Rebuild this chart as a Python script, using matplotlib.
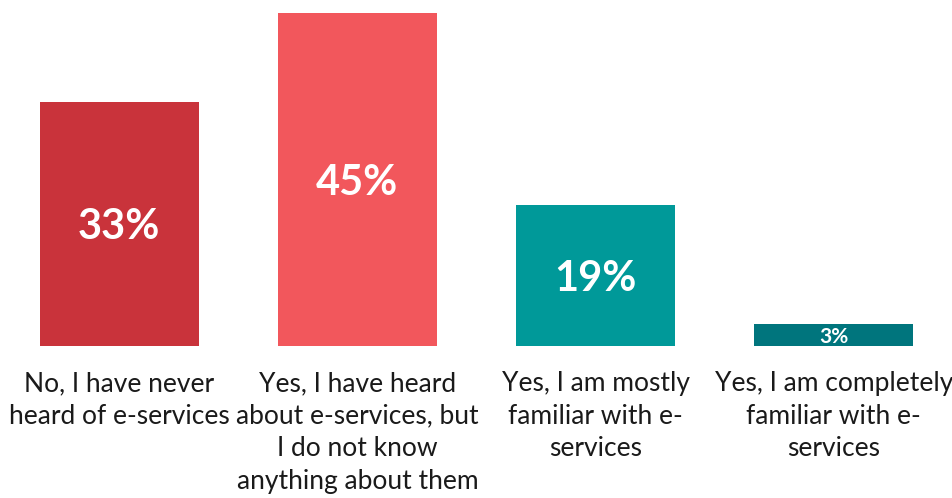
import matplotlib
matplotlib.use("Agg")
import matplotlib.pyplot as plt

# Familiarity with e-services
categories = [
    "No, I have never\nheard of e-services",
    "Yes, I have heard\nabout e-services, but\nI do not know\nanything about them",
    "Yes, I am mostly\nfamiliar with e-\nservices",
    "Yes, I am completely\nfamiliar with e-\nservices",
]
shares = [33, 45, 19, 3]
colors = ["#C9333B", "#F2575C", "#009999", "#00757D"]

plt.rcParams["font.family"] = ["Lato", "DejaVu Sans"]

fig = plt.figure(figsize=(9.53, 4.98), dpi=100)
ax = fig.add_axes([0, 0.3052, 1, 0.6948])

x = range(len(shares))
bars = ax.bar(x, shares, width=0.667, color=colors)

for b, v in zip(bars, shares):
    size = 15 if v < 5 else 30
    ax.text(b.get_x() + b.get_width() / 2, v / 2, f"{v}%",
            ha="center", va="center_baseline", color="white",
            fontsize=size, fontweight="bold")

for i, lab in enumerate(categories):
    ax.text(i, -0.072, lab, transform=ax.get_xaxis_transform(),
            ha="center", va="top", fontsize=19, color="#1a1a1a",
            linespacing=1.38)

ax.set_xlim(-0.5, 3.5)
ax.set_ylim(0, 46.75)
ax.axis("off")

fig.savefig("out.png", dpi=100)
